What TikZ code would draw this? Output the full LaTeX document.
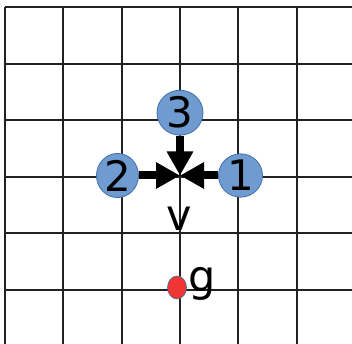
\documentclass[tikz,border=0pt]{standalone}
\usepackage{fontspec}
\setmainfont{DejaVu Sans}
\usetikzlibrary{arrows.meta,shapes.geometric}
\definecolor{nodefill}{HTML}{6F9BD1}
\definecolor{nodeedge}{HTML}{3F6FA8}
\definecolor{dotred}{HTML}{F03535}
\definecolor{gridc}{HTML}{222222}
\tikzset{
  gridline/.style={draw=gridc, line width=1.9pt},
  numnode/.style={ellipse, fill=nodefill, draw=nodeedge, line width=0.8pt, inner sep=0pt, font=\fontsize{42}{42}\selectfont},
  bigarrow/.style={draw=black, line width=8pt, -{Triangle[width=25pt,length=24pt]}},
  lbl/.style={inner sep=0pt, font=\fontsize{43}{43}\selectfont},
}
\begin{document}
\begin{tikzpicture}[x=1pt,y=-1pt]
\useasboundingbox (0,0) rectangle (352,344);
\fill[white] (0,0) rectangle (352,344);
% grid
\foreach \i in {0,...,5} {
  \draw[gridline] ({5+58.33*\i},7.3) -- ({5+58.33*\i},344);
  \draw[gridline] (5,{7.3+56.45*\i}) -- (352,{7.3+56.45*\i});
}
\coordinate (c) at (180,175.5);
\node[numnode, minimum width=46pt, minimum height=40pt] (n3) at (180,112.7) {3};
\node[numnode, minimum width=42pt, minimum height=42pt] (n2) at (117.5,175.5) {2};
\node[numnode, minimum width=44pt, minimum height=40pt] (n1) at (240.5,175.5) {1};
\draw[bigarrow] (n3) -- (c);
\draw[bigarrow] (n2) -- (c);
\draw[bigarrow] (n1) -- (c);
\node[lbl] (v) at (179,219) {v};
\node[ellipse, fill=dotred, draw=nodeedge, line width=0.6pt, minimum width=19pt, minimum height=23pt, inner sep=0pt] (dot) at (177,287.5) {};
\node[lbl] (g) at (202,284) {g};
\end{tikzpicture}
\end{document}
